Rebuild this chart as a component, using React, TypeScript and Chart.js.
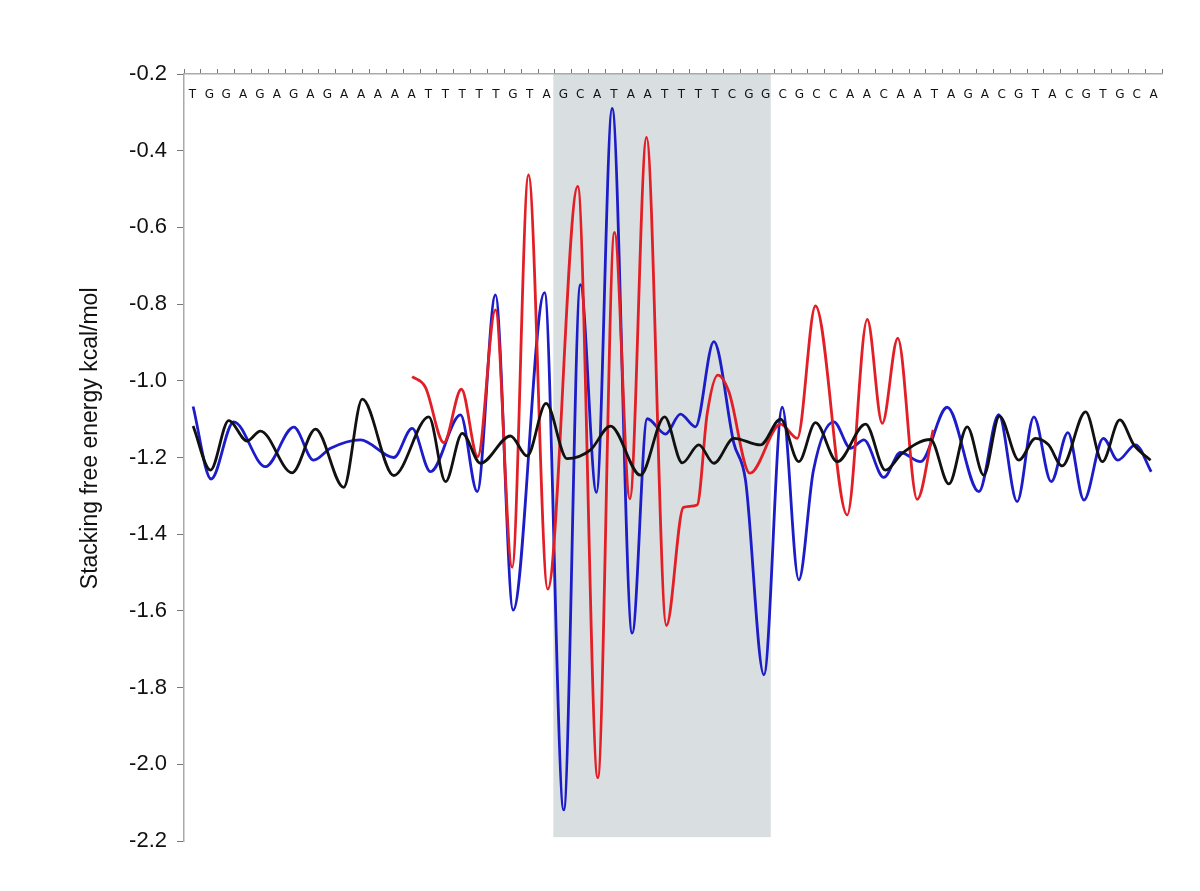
import { useEffect, useRef } from "react";
import { Chart, registerables } from "chart.js";

Chart.register(...registerables);

// Sequence letters along the top axis (one per base position 0..57)
const sequenceLetters = "TGGAGAGAGAAAAATTTTTGTAGCATAATTTTCGGCGCCAACAATAGACGTACGTGCA".split("");

// Y axis tick values
const yTickValues = [-2.2, -2.0, -1.8, -1.6, -1.4, -1.2, -1.0, -0.8, -0.6, -0.4, -0.2];

// Black series (position along sequence, energy)
const blackPos = [0.04, 1.07, 2.15, 3.24, 4.03, 5.91, 7.3, 8.97, 10.07, 11.94, 14.02, 15.01, 16.0, 17.08, 18.86, 19.85, 20.97, 22.22, 23.61, 24.79, 26.57, 28.0, 29.05, 30.03, 30.92, 32.11, 33.69, 34.88, 35.96, 36.95, 38.24, 39.92, 41.1, 42.09, 43.77, 44.86, 45.95, 46.93, 47.86, 49.01, 50.0, 50.77, 51.58, 52.97, 53.96, 55.0, 55.83, 56.82];
const blackVal = [-1.118, -1.233, -1.104, -1.157, -1.131, -1.24, -1.126, -1.278, -1.048, -1.247, -1.094, -1.263, -1.137, -1.215, -1.144, -1.196, -1.059, -1.203, -1.18, -1.118, -1.246, -1.094, -1.214, -1.167, -1.215, -1.15, -1.167, -1.1, -1.211, -1.109, -1.211, -1.113, -1.233, -1.189, -1.153, -1.269, -1.12, -1.246, -1.092, -1.207, -1.15, -1.167, -1.222, -1.081, -1.211, -1.102, -1.167, -1.207];

// Blue series
const bluePos = [0.04, 1.11, 2.45, 4.33, 6.01, 7.19, 8.19, 9.96, 11.94, 13.03, 14.12, 15.9, 16.89, 17.97, 19.02, 20.88, 22.02, 23.01, 23.96, 24.89, 26.08, 26.97, 28.06, 28.94, 29.83, 30.92, 32.11, 32.8, 33.89, 34.98, 35.96, 36.83, 38.04, 39.03, 39.82, 41.0, 41.99, 43.18, 44.76, 46.64, 47.82, 48.91, 49.9, 50.93, 51.92, 52.87, 54.02, 54.88, 55.93, 56.86];
const blueVal = [-1.067, -1.256, -1.107, -1.224, -1.121, -1.207, -1.176, -1.154, -1.2, -1.124, -1.237, -1.089, -1.289, -0.776, -1.598, -0.77, -2.119, -0.749, -1.291, -0.29, -1.658, -1.099, -1.139, -1.087, -1.12, -0.898, -1.163, -1.259, -1.767, -1.069, -1.519, -1.233, -1.107, -1.176, -1.154, -1.252, -1.187, -1.211, -1.069, -1.289, -1.088, -1.315, -1.094, -1.263, -1.135, -1.311, -1.15, -1.207, -1.167, -1.237];

// Red series
const redPos = [13.03, 13.82, 14.91, 15.95, 16.92, 17.97, 18.96, 19.93, 21.07, 22.85, 24.04, 25.03, 25.94, 26.93, 28.11, 29.12, 29.93, 30.53, 31.16, 31.81, 33.06, 34.88, 35.87, 36.95, 38.83, 40.02, 40.91, 41.83, 42.98, 43.93];
const redVal = [-0.989, -1.017, -1.161, -1.022, -1.198, -0.815, -1.486, -0.463, -1.543, -0.493, -2.035, -0.613, -1.308, -0.365, -1.638, -1.33, -1.324, -1.085, -0.985, -1.028, -1.241, -1.113, -1.15, -0.805, -1.35, -0.84, -1.111, -0.889, -1.309, -1.128];

// Highlighted region (sequence positions / energy range)
const shadeRange = [21.4, 34.3];
const shadeEnergy = [-0.2, -2.19];

const yTitle = "Stacking free energy kcal/mol";

const shadePlugin = {
  id: "shadeRegion",
  beforeDraw(chart: any) {
    const { ctx, scales } = chart;
    const xs = scales.x;
    const ys = scales.y;
    const x0 = xs.getPixelForValue(shadeRange[0]);
    const x1 = xs.getPixelForValue(shadeRange[1]);
    const y0 = ys.getPixelForValue(shadeEnergy[0]);
    const y1 = ys.getPixelForValue(shadeEnergy[1]);
    ctx.save();
    ctx.fillStyle = "#d9dfe0";
    ctx.fillRect(x0, y0, x1 - x0, y1 - y0);
    ctx.restore();
  },
};

const toPoints = (xs: number[], ys: number[]) => xs.map((x, i) => ({ x, y: ys[i] }));

export default function App() {
  const canvasRef = useRef<HTMLCanvasElement | null>(null);

  useEffect(() => {
    if (!canvasRef.current) return;
    const lineCommon = {
      pointRadius: 0,
      borderWidth: 2.8,
      cubicInterpolationMode: "monotone" as const,
      fill: false,
    };
    const chart = new Chart(canvasRef.current, {
      type: "line",
      data: {
        datasets: [
          { ...lineCommon, label: "black", data: toPoints(blackPos, blackVal), borderColor: "#111111" },
          { ...lineCommon, label: "red", data: toPoints(redPos, redVal), borderColor: "#e21f26" },
          { ...lineCommon, label: "blue", data: toPoints(bluePos, blueVal), borderColor: "#1c1cc8" },
        ],
      },
      options: {
        animation: false,
        responsive: false,
        layout: { padding: { left: 77, right: 38, top: 0, bottom: 50 } },
        plugins: { legend: { display: false }, tooltip: { enabled: false } },
        scales: {
          x: {
            type: "linear",
            display: false,
            min: -0.5,
            max: sequenceLetters.length - 0.5,
          },
          xTop: {
            type: "category",
            position: "top",
            labels: sequenceLetters,
            offset: true,
            afterFit: (s: any) => {
              s.height = 74;
            },
            grid: {
              offset: true,
              drawOnChartArea: false,
              drawTicks: true,
              tickLength: 5,
              color: "#777777",
            },
            border: { display: true, color: "#aaaaaa", width: 1.5 },
            ticks: {
              autoSkip: false,
              maxRotation: 0,
              minRotation: 0,
              mirror: true,
              padding: 14,
              color: "#111111",
              font: { family: "DejaVu Sans", size: 12 },
            },
          },
          y: {
            type: "linear",
            position: "left",
            min: -2.2,
            max: -0.2,
            afterFit: (s: any) => {
              s.width = 107;
            },
            afterBuildTicks: (s: any) => {
              s.ticks = yTickValues.map((v) => ({ value: v }));
            },
            grid: { drawOnChartArea: false, drawTicks: true, tickLength: 7, color: "#777777" },
            border: { display: true, color: "#aaaaaa", width: 1.5 },
            ticks: {
              padding: 10,
              color: "#111111",
              font: { family: "Liberation Sans", size: 22 },
              callback: (v: any) => Number(v).toFixed(1),
            },
            title: {
              display: true,
              text: "      " + yTitle,
              color: "#111111",
              font: { family: "Liberation Sans", size: 23 },
              padding: 0,
            },
          },
        },
      },
      plugins: [shadePlugin],
    });
    return () => chart.destroy();
  }, []);

  return (
    <div style={{ position: "absolute", left: 0, top: 0, width: 1200, height: 891 }}>
      <canvas ref={canvasRef} width={1200} height={891} />
    </div>
  );
}
